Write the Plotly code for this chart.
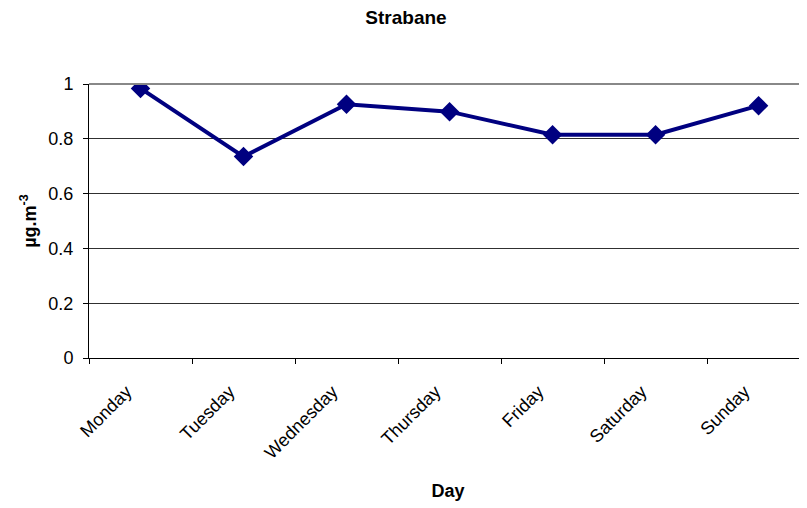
import plotly.graph_objects as go

days = ["Monday", "Tuesday", "Wednesday", "Thursday", "Friday", "Saturday", "Sunday"]
values = [0.984, 0.735, 0.926, 0.899, 0.815, 0.815, 0.921]
y_ticks = [0, 0.2, 0.4, 0.6, 0.8, 1]
y_tick_labels = ["0", "0.2", "0.4", "0.6", "0.8", "1"]

FONT = "Arial, 'Liberation Sans', sans-serif"

fig = go.Figure()
fig.add_trace(go.Scatter(
    x=days, y=values, mode="lines+markers",
    line=dict(color="#000080", width=4),
    marker=dict(symbol="diamond", size=15, color="#000080"),
    showlegend=False,
))

fig.update_layout(
    width=807, height=508,
    margin=dict(l=81, r=8, t=76, b=158),
    paper_bgcolor="white", plot_bgcolor="white",
    font=dict(family=FONT, size=18, color="black"),
    title=dict(text="<b>Strabane</b>", x=398 / 807, xref="container", xanchor="center",
               y=1 - 9 / 508, yref="container", yanchor="middle", font=dict(size=19)),
    xaxis=dict(
        type="category", range=[-0.5, 6.47], automargin=False,
        showline=True, linecolor="black", linewidth=1,
        ticks="outside", ticklen=5, tickcolor="black",
        tickson="boundaries", tickangle=-45,
        ticklabelstandoff=15, ticklabelshift=-14,
        showgrid=False,
        title=dict(text="<b>Day</b>", standoff=22, font=dict(size=18)),
    ),
    yaxis=dict(
        range=[0, 1], tickvals=y_ticks, ticktext=y_tick_labels, automargin=False,
        showline=True, linecolor="black", linewidth=1,
        ticks="outside", ticklen=5, tickcolor="black",
        ticklabelstandoff=6,
        showgrid=True, gridcolor="#303030", gridwidth=1,
        zeroline=False,
        title=dict(text="<b>µg.m<sup>-3</sup></b>", standoff=7, font=dict(size=18)),
    ),
    shapes=[dict(type="line", xref="paper", yref="paper", x0=0, x1=1, y0=1, y1=1,
                 line=dict(color="#888888", width=2), layer="above")],
)

fig.write_html("out.html")
